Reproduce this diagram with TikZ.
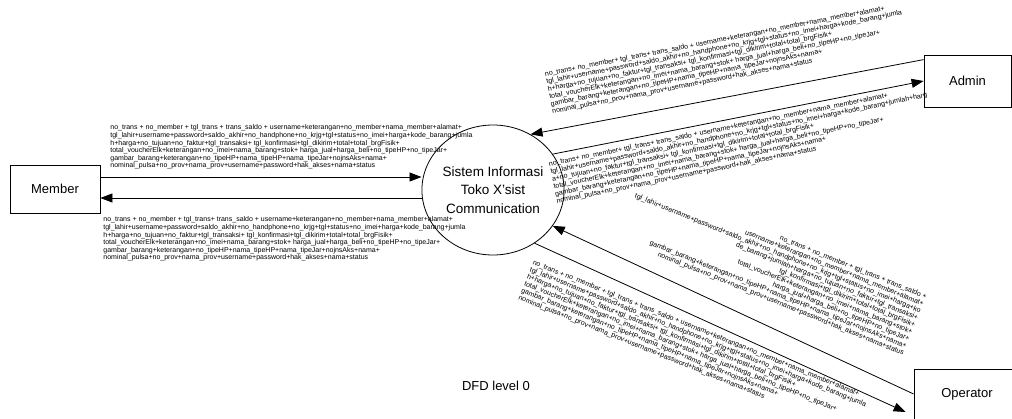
\documentclass[tikz,border=0pt]{standalone}
\usepackage{fontspec}
\setmainfont{Liberation Sans}
\usetikzlibrary{arrows.meta,shapes.geometric}
\newcommand{\dlahir}{tgl\_lahir+username+password+saldo\_akhir+no\_handphone+no\_krjg+tgl+status+no\_imei+harga+kode\_barang+jumla}
\newcommand{\dharga}{h+harga+no\_tujuan+no\_faktur+tgl\_transaksi+ tgl\_konfirmasi+tgl\_dikirim+total+total\_brgFisik+}
\newcommand{\dtail}{total\_voucherElk+keterangan+no\_imei+nama\_barang+stok+ harga\_jual+harga\_beli+no\_tipeHP+no\_tipeJar+\\
gambar\_barang+keterangan+no\_tipeHP+nama\_tipeHP+nama\_tipeJar+nojnsAks+nama+\\
nominal\_pulsa+no\_prov+nama\_prov+username+password+hak\_akses+nama+status}
\begin{document}
\begin{tikzpicture}[x=1pt,y=-1pt,thick,
  box/.style={draw, rectangle, inner sep=0pt, font=\fontsize{13}{15}\selectfont},
  proc/.style={draw, ellipse, inner sep=0pt, minimum width=110, minimum height=130, align=center, font=\fontsize{13.5}{18.5}\selectfont},
  flow/.style={-{Triangle[length=12pt,width=9pt]}},
  lbl/.style={inner sep=0pt, align=left, font=\fontsize{7}{7.6}\selectfont}]
  \useasboundingbox (0,0) rectangle (1012,418);
  \clip (0,0) rectangle (1012,418);

  \node[box, minimum width=90, minimum height=48] (member) at (55,189) {Member};
  \node[box, minimum width=87, minimum height=52] (admin) at (967.5,81) {Admin};
  \node[box, minimum width=106, minimum height=50] (operator) at (967,394) {Operator};
  \node[proc] (sistem) at (493,190) {Sistem Informasi\\Toko X’sist\\Communication};
  \node[font=\fontsize{13}{15}\selectfont] (judul) at (496,386) {DFD level 0};

  \draw[flow] ([yshift=12pt]member.east) -- ([yshift=12pt]member.east -| sistem.west);
  \draw[flow] ([yshift=-9pt]member.east -| sistem.west) -- ([yshift=-9pt]member.east);
  \draw[flow] ([yshift=-5pt]admin.north west) -- (sistem.56);
  \draw[flow] (sistem.31) -- (admin.west);
  \draw[flow] (operator.west) -- (sistem.-31);
  \draw[flow] (sistem.-52) -- ([xshift=-8pt,yshift=-18pt]operator.west);

  \node[lbl, anchor=north west] (mlbl1) at (110,124.5) {no\_trans + no\_member + tgl\_trans + trans\_saldo + username+keterangan+no\_member+nama\_member+alamat+\\
  \dlahir\\ \dharga\\ \dtail};
  \node[lbl, anchor=north west] (mlbl2) at (103,216.5) {no\_trans + no\_member + tgl\_trans+ trans\_saldo + username+keterangan+no\_member+nama\_member+alamat+\\
  \dlahir\\ \dharga\\ \dtail};
  \node[lbl, anchor=north west, rotate=11] (albl1) at (544,71) {no\_trans+ no\_member+ tgl\_trans+ trans\_saldo + username+keterangan+no\_member+nama\_member+alamat+\\
  \dlahir\\ \dharga\\ \dtail};
  \node[lbl, anchor=north west, rotate=11.5] (albl2) at (548,161) {no\_trans+ no\_member+ tgl\_trans+ trans\_saldo + username+keterangan+no\_member+nama\_member+alamat+\\
  tgl\_lahir+username+password+saldo\_akhir+no\_handphone+no\_krjg+tgl+status+no\_imei+harga+kode\_barang+jumlah+harg\\
  a+no\_tujuan+no\_faktur+tgl\_transaksi+ tgl\_konfirmasi+tgl\_dikirim+total+total\_brgFisik+\\ \dtail};
  \node[lbl, align=right, anchor=north east, rotate=-22] (olbl1) at (928,294) {no\_trans + no\_member + tgl\_trans + trans\_saldo +\\
  username+keterangan+no\_member+nama\_member+alamat+\\
  tgl\_lahir+username+password+saldo\_akhir+no\_handphone+no\_krjg+tgl+status+no\_imei+harga+ko\\
  de\_barang+jumlah+harga+no\_tujuan+no\_faktur+tgl\_transaksi+\\
  tgl\_konfirmasi+tgl\_dikirim+total+total\_brgFisik+\\
  total\_voucherElk+keterangan+no\_imei+nama\_barang+stok+\\
  harga\_jual+harga\_beli+no\_tipeHP+no\_tipeJar+\\
  gambar\_barang+keterangan+no\_tipeHP+nama\_tipeHP+nama\_tipeJar+nojnsAks+nama+\\
  nominal\_pulsa+no\_prov+nama\_prov+username+password+hak\_akses+nama+status};
  \node[lbl, anchor=north west, rotate=-22] (olbl2) at (534,259) {no\_trans + no\_member + tgl\_trans + trans\_saldo + username+keterangan+no\_member+nama\_member+alamat+\\
  \dlahir\\ \dharga\\ \dtail};
\end{tikzpicture}
\end{document}
